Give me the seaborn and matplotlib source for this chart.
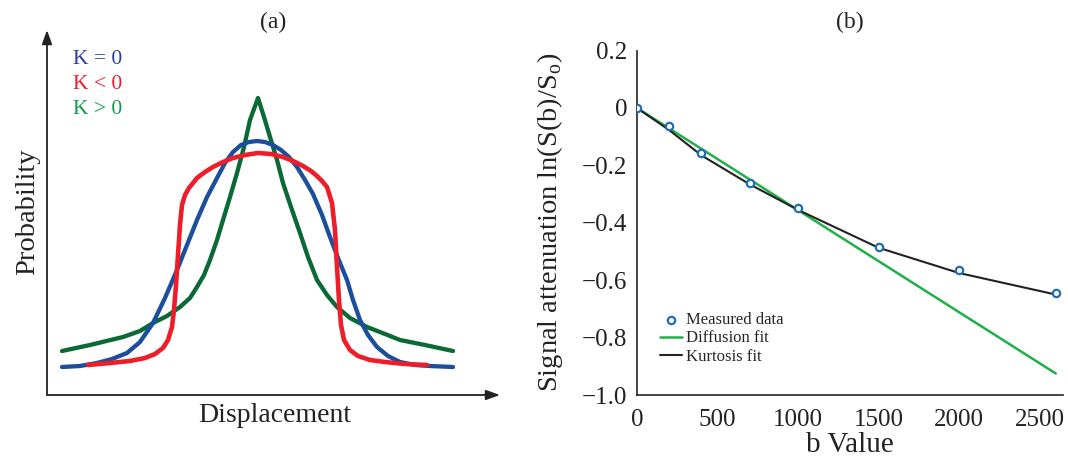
import matplotlib
matplotlib.use("Agg")
import matplotlib.pyplot as plt
import seaborn as sns

# ---------------- data: panel (a) (arbitrary displacement / probability units)
blue_x = [62, 80, 97, 112, 127, 140, 153, 165, 177, 187, 197, 207, 217, 225, 233, 241, 249, 257,
          265, 273, 281, 289, 297, 305, 313, 322, 330, 338, 347, 353, 360, 368, 377, 388, 400, 415, 430, 453]
blue_y = [28, 29, 32, 36, 42, 53, 72, 97, 125, 150, 175, 198, 217, 232, 243, 250, 253, 254,
          253, 250, 245, 238, 228, 215, 201, 180, 158, 137, 115, 95, 75, 60, 48, 39, 33, 30, 29, 28]

green_x = [62, 90, 123, 140, 153, 167, 180, 190, 197, 204, 210, 217, 223, 230, 237, 244, 250, 258,
           264, 270, 277, 283, 291, 300, 308, 317, 327, 337, 350, 367, 385, 400, 425, 453]
green_y = [44, 50, 58, 64, 72, 79, 88, 97, 108, 120, 135, 155, 175, 198, 222, 248, 275, 297,
           278, 258, 235, 212, 188, 162, 138, 115, 100, 88, 77, 68, 61, 55, 50, 44]

red_x = [88, 110, 130, 145, 155, 163, 168, 172, 174, 176, 178, 180, 182, 185, 189, 197, 205, 213, 223,
         233, 245, 258, 271, 283, 293, 303, 311, 317, 322, 327, 332, 335, 337, 339, 341, 344, 350, 358,
         370, 385, 405, 427]
red_y = [30, 32, 34, 37, 41, 47, 55, 68, 85, 110, 140, 170, 190, 200, 207, 217, 223, 228, 233,
         237, 240, 242, 241, 238, 234, 229, 224, 219, 214, 208, 192, 165, 128, 95, 70, 55, 45, 39,
         35, 33, 31, 30]

legend_a = ["K = 0", "K < 0", "K > 0"]

# ---------------- data: panel (b)
b_measured = [0, 200, 400, 700, 1000, 1500, 2000, 2600]
s_measured = [0.0, -0.063, -0.158, -0.26, -0.349, -0.483, -0.564, -0.643]
b_diff = [0, 2600]
s_diff = [0.0, -0.925]
b_kurt = [0, 200, 400, 700, 1000, 1500, 2000, 2600]
s_kurt = [0.0, -0.077, -0.165, -0.266, -0.355, -0.487, -0.575, -0.65]
x_ticks = [0, 500, 1000, 1500, 2000, 2500]
y_ticks = [-1.0, -0.8, -0.6, -0.4, -0.2, 0.0, 0.2]
y_tick_labels = ["\u22121.0", "\u22120.8", "\u22120.6", "\u22120.4", "\u22120.2", "0", "0.2"]

# ---------------- style
sns.set_theme(style="white")
plt.rcParams["font.family"] = ["Liberation Serif", "DejaVu Serif"]
plt.rcParams["mathtext.fontset"] = "custom"
plt.rcParams["mathtext.rm"] = "Liberation Serif"

W, H = 1068, 458
fig = plt.figure(figsize=(W / 100, H / 100), dpi=100)
fig.patch.set_facecolor("white")

def fx(px):
    return px / W

def fy(py):
    return 1 - py / H

# ---------------- panel (a)
ax1 = fig.add_axes([fx(47), fy(395), fx(500) - fx(47), fy(30) - fy(395)])
C_BLUE, C_RED, C_GREEN = "#1b4f9c", "#ee1d2a", "#0a6a36"
line_kw = dict(sort=False, solid_capstyle="round", solid_joinstyle="round")
sns.lineplot(x=green_x, y=green_y, ax=ax1, color=C_GREEN, lw=3.1, **line_kw)
sns.lineplot(x=blue_x, y=blue_y, ax=ax1, color=C_BLUE, lw=3.1, **line_kw)
sns.lineplot(x=red_x, y=red_y, ax=ax1, color=C_RED, lw=3.3, **line_kw)
ax1.set_xlim(47, 500)
ax1.set_ylim(0, 365)
for s in ax1.spines.values():
    s.set_visible(False)
ax1.set_xticks([])
ax1.set_yticks([])
ax1.set_xlabel("")
ax1.set_ylabel("")
arrow_kw = dict(arrowstyle="-|>,head_length=0.7,head_width=0.25", color="#222222", lw=1.3,
                shrinkA=0, shrinkB=0)
ax1.annotate("", xy=(0, 1), xytext=(0, 0), xycoords="axes fraction",
             textcoords="axes fraction", arrowprops=arrow_kw, annotation_clip=False)
ax1.annotate("", xy=(1, 0), xytext=(0, 0), xycoords="axes fraction",
             textcoords="axes fraction", arrowprops=arrow_kw, annotation_clip=False)
for lab, col, py in zip(legend_a, ["#2a3d9c", "#ee1d2a", "#0f9a4c"], [60, 85, 110]):
    fig.text(fx(73), fy(py), lab, color=col, fontsize=15.5, ha="left", va="center")

fig.text(fx(273), fy(22), "(a)", fontsize=17, ha="center", va="center", color="#222222")
fig.text(fx(275), fy(415), "Displacement", fontsize=20, ha="center", va="center", color="#222222")
fig.text(fx(28), fy(212), "Probability", fontsize=20.5, rotation=90, ha="center", va="center",
         color="#222222")

# ---------------- panel (b)
ax2 = fig.add_axes([fx(637), fy(395), fx(1063) - fx(637), fy(50.6) - fy(395)])
C_DIFF, C_KURT, C_MEAS = "#1fb04a", "#222222", "#1f6eb4"
sns.lineplot(x=b_diff, y=s_diff, ax=ax2, color=C_DIFF, lw=1.8, label="Diffusion fit")
sns.lineplot(x=b_kurt, y=s_kurt, ax=ax2, color=C_KURT, lw=1.5, label="Kurtosis fit")
sns.scatterplot(x=b_measured, y=s_measured, ax=ax2, marker="o", s=28, facecolor="white",
                edgecolor=C_MEAS, linewidth=1.6, label="Measured data", zorder=5)
ax2.set_xlim(0, 2645)
ax2.set_ylim(-1.0, 0.2)
ax2.set_xticks(x_ticks)
ax2.set_yticks(y_ticks)
ax2.set_yticklabels(y_tick_labels)
ax2.tick_params(axis="both", direction="in", length=6, width=1.1, color="#222222",
                labelsize=18, labelcolor="#222222")
ax2.tick_params(axis="x", pad=10)
ax2.tick_params(axis="y", pad=7)
for side in ["top", "right"]:
    ax2.spines[side].set_visible(False)
for side in ["left", "bottom"]:
    ax2.spines[side].set_color("#222222")
    ax2.spines[side].set_linewidth(1.2)
ax2.set_xlabel("")
ax2.set_ylabel("")

handles, labels = ax2.get_legend_handles_labels()
order = [labels.index("Measured data"), labels.index("Diffusion fit"), labels.index("Kurtosis fit")]
ax2.legend([handles[i] for i in order], [labels[i] for i in order],
           loc="upper left", bbox_to_anchor=(fx(660), fy(312)), bbox_transform=fig.transFigure,
           frameon=False, fontsize=12, handlelength=1.3, handletextpad=0.25,
           labelspacing=0.15, borderpad=0, borderaxespad=0, markerscale=1.0)

fig.text(fx(850), fy(22), "(b)", fontsize=17, ha="center", va="center", color="#222222")
fig.text(fx(850), fy(445), "b Value", fontsize=21, ha="center", va="center", color="#222222")
fig.text(fx(550), fy(222), "Signal attenuation ln(S(b)/S$_\\mathregular{o}$)", fontsize=20.5,
         rotation=90, ha="center", va="center", color="#222222")

fig.savefig("out.png", dpi=100, facecolor="white")
